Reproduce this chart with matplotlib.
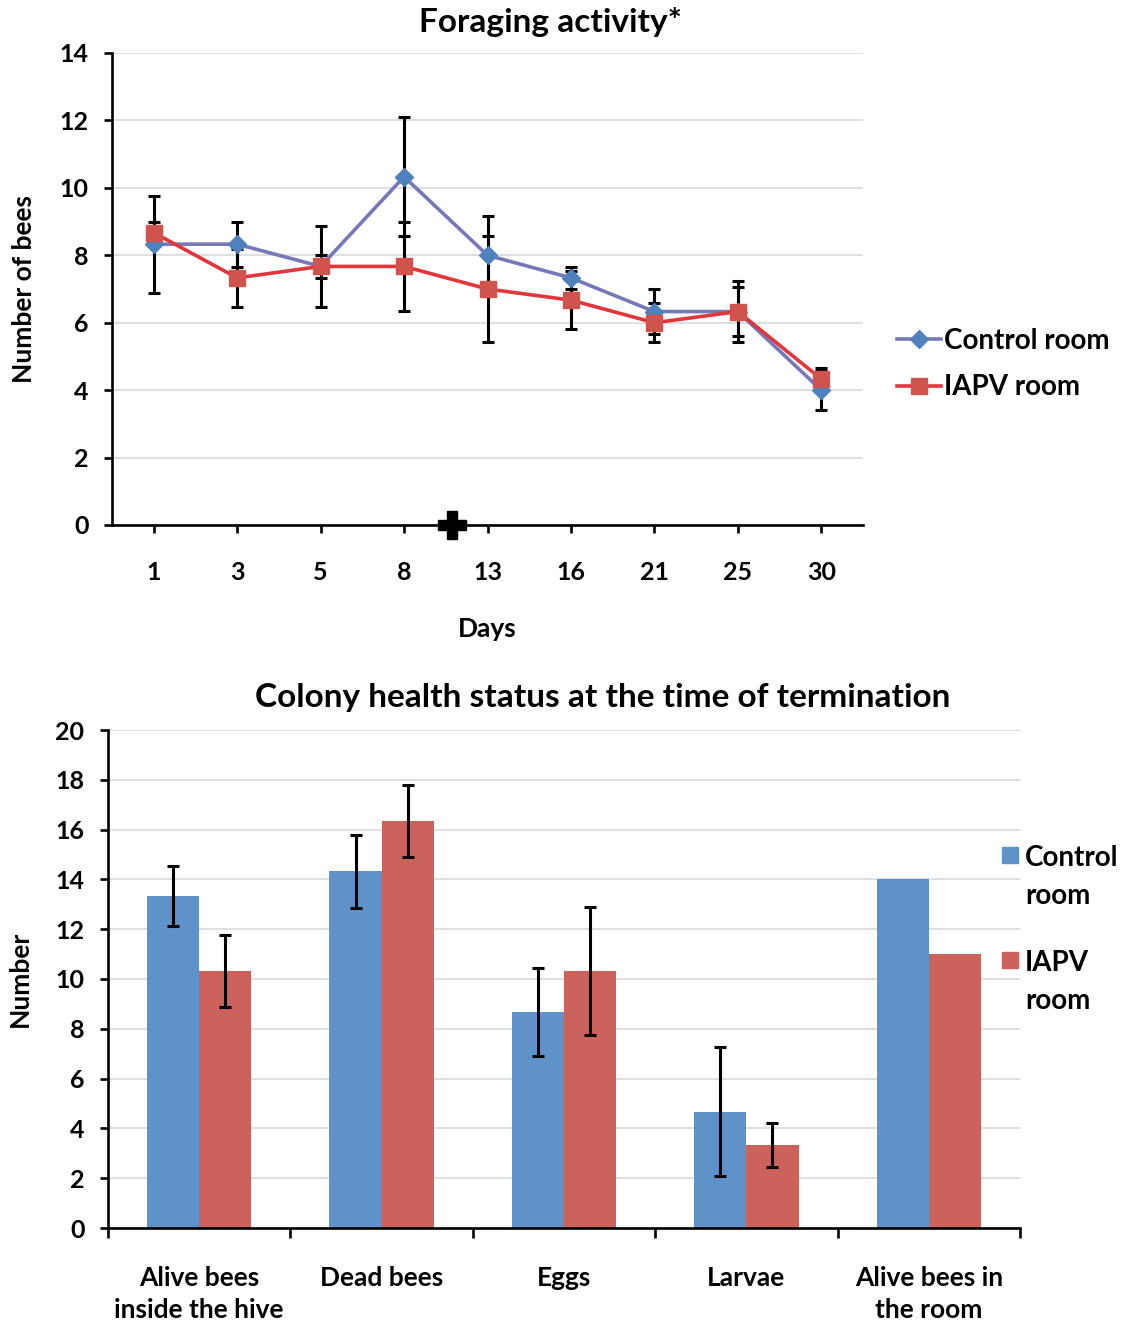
import matplotlib
matplotlib.use("Agg")
import matplotlib.pyplot as plt
from matplotlib.lines import Line2D
from matplotlib.patches import Rectangle
import numpy as np

plt.rcParams["font.family"] = ["Lato", "DejaVu Sans"]
plt.rcParams["font.weight"] = "bold"

# Foraging counts per sampling day
days = ["1", "3", "5", "8", "13", "16", "21", "25", "30"]
control_forage = [8.33, 8.33, 7.67, 10.33, 8.0, 7.33, 6.33, 6.33, 4.0]
control_forage_err = [1.44, 0.67, 1.2, 1.77, 1.17, 0.33, 0.67, 0.9, 0.58]
iapv_forage = [8.67, 7.33, 7.67, 7.67, 7.0, 6.67, 6.0, 6.33, 4.33]
iapv_forage_err = [0.33, 0.87, 0.33, 1.33, 1.56, 0.87, 0.58, 0.73, 0.33]
exposure_x = 3.58  # category position of the "+" marker (between day 8 and 13)

# Colony status at termination
status_labels = ["Alive bees\ninside the hive", "Dead bees", "Eggs", "Larvae",
                 "Alive bees in\nthe room"]
control_status = [13.33, 14.33, 8.67, 4.67, 14.0]
control_status_err = [1.2, 1.46, 1.76, 2.6, np.nan]
iapv_status = [10.33, 16.33, 10.33, 3.33, 11.0]
iapv_status_err = [1.45, 1.45, 2.58, 0.87, np.nan]

W, H = 1126, 1326
BLUE_LINE = "#7679B6"
BLUE_MARK = "#4F81BD"
RED_LINE = "#E2363C"
RED_MARK = "#D0534E"
BLUE_BAR = "#5F92C9"
RED_BAR = "#CB625C"
GRID = "#D9D9D9"
TICK_FS = 18
LABEL_FS = 19
TITLE_FS = 24
LEGEND_FS = 20


def style_axes(ax):
    for side in ("top", "right"):
        ax.spines[side].set_visible(False)
    for side in ("left", "bottom"):
        ax.spines[side].set_linewidth(1.9)
        ax.spines[side].set_color("black")
    ax.yaxis.grid(True, color=GRID, linewidth=1.2)
    ax.set_axisbelow(True)
    ax.tick_params(axis="y", direction="out", length=6, width=1.9,
                   labelsize=TICK_FS, pad=11)


def error_bars(ax, xs, ys, errs):
    ax.errorbar(xs, ys, yerr=errs, fmt="none", ecolor="black",
                elinewidth=2.2, capsize=4.5, capthick=2.2, zorder=3)


fig = plt.figure(figsize=(W / 100, H / 100), dpi=100)

# --- foraging activity line chart ---
ax1 = fig.add_axes([112 / W, 1 - 525 / H, (863 - 112) / W, (525 - 53) / H])
style_axes(ax1)
x = np.arange(len(days))
error_bars(ax1, x, control_forage, control_forage_err)
error_bars(ax1, x, iapv_forage, iapv_forage_err)
ax1.plot(x, control_forage, color=BLUE_LINE, linewidth=2.6, marker="D",
         markersize=9, markerfacecolor=BLUE_MARK, markeredgecolor=BLUE_MARK,
         zorder=4)
ax1.plot(x, iapv_forage, color=RED_LINE, linewidth=2.6, marker="s",
         markersize=11, markerfacecolor=RED_MARK, markeredgecolor=RED_MARK,
         zorder=5)
ax1.plot([exposure_x], [0], marker="P", markersize=20, color="black",
         clip_on=False, zorder=6)
ax1.set_xlim(-0.5, len(days) - 0.5)
ax1.set_ylim(0, 14)
ax1.set_yticks(range(0, 15, 2))
ax1.set_xticks(x)
ax1.set_xticklabels(days)
ax1.tick_params(axis="x", direction="out", length=6, width=1.9,
                labelsize=TICK_FS, pad=20)
ax1.set_xlabel("Days", fontsize=LABEL_FS, fontweight="bold", labelpad=24)
ax1.set_ylabel("Number of bees", fontsize=LABEL_FS, fontweight="bold",
               labelpad=17)
fig.text(550 / W, 1 - 22 / H, "Foraging activity*", ha="center", va="center",
         fontsize=TITLE_FS, fontweight="bold")

line_handles = [
    Line2D([], [], color=BLUE_LINE, linewidth=2.6, marker="D", markersize=9,
           markerfacecolor=BLUE_MARK, markeredgecolor=BLUE_MARK),
    Line2D([], [], color=RED_LINE, linewidth=2.6, marker="s", markersize=11,
           markerfacecolor=RED_MARK, markeredgecolor=RED_MARK),
]
fig.legend(line_handles, ["Control room", "IAPV room"],
           loc="center left", bbox_to_anchor=(872 / W, 1 - 364 / H),
           frameon=False, fontsize=LEGEND_FS, handlelength=1.6,
           handletextpad=0.1, labelspacing=0.75)

# --- colony status bar chart ---
ax2 = fig.add_axes([108 / W, 1 - 1228 / H, (1020 - 108) / W, (1228 - 730) / H])
style_axes(ax2)
pos = np.arange(len(status_labels))
bw = 2 / 7
ax2.bar(pos - bw / 2, control_status, width=bw, color=BLUE_BAR, zorder=2)
ax2.bar(pos + bw / 2, iapv_status, width=bw, color=RED_BAR, zorder=2)
error_bars(ax2, pos - bw / 2, control_status, control_status_err)
error_bars(ax2, pos + bw / 2, iapv_status, iapv_status_err)
ax2.set_xlim(-0.5, len(status_labels) - 0.5)
ax2.set_ylim(0, 20)
ax2.set_yticks(range(0, 21, 2))
ax2.set_xticks(pos)
ax2.set_xticklabels(status_labels, linespacing=1.45)
ax2.set_xticks(np.arange(-0.5, len(status_labels)), minor=True)
ax2.tick_params(axis="x", which="major", length=0, labelsize=LABEL_FS, pad=27)
ax2.tick_params(axis="x", which="minor", direction="out", length=7, width=1.9)
ax2.set_ylabel("Number", fontsize=LABEL_FS, fontweight="bold", labelpad=17)
fig.text(603 / W, 1 - 697 / H, "Colony health status at the time of termination",
         ha="center", va="center", fontsize=TITLE_FS, fontweight="bold")

# legend with wrapped labels, square aligned to the first line
for label, colour, y_top in [("Control\nroom", BLUE_BAR, 857),
                             ("IAPV\nroom", RED_BAR, 962)]:
    fig.patches.append(Rectangle((1002 / W, 1 - (y_top + 6) / H), 16 / W, 16 / H,
                                 transform=fig.transFigure, color=colour))
    fig.text(1025 / W, 1 - (y_top - 12) / H, label, ha="left", va="top",
             fontsize=LEGEND_FS, fontweight="bold", linespacing=1.55)

fig.savefig("out.png", dpi=100, facecolor="white")
